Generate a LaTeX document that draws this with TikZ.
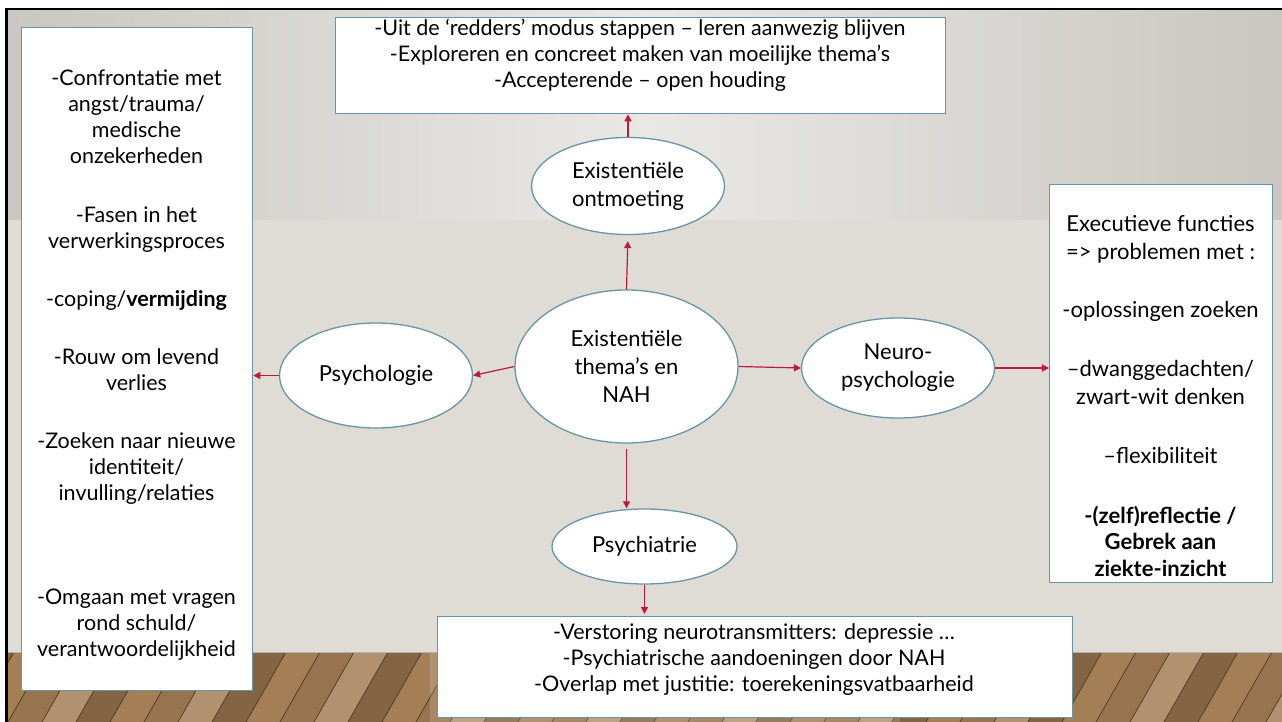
\documentclass[tikz,border=0pt]{standalone}
\usepackage{fontspec}
\setmainfont{Lato}
\usetikzlibrary{shapes.geometric,arrows.meta}
\definecolor{edgeblue}{RGB}{104,148,166}
\definecolor{arrowred}{RGB}{190,24,62}
\definecolor{wallup}{RGB}{202,199,194}
\definecolor{walluplight}{RGB}{234,232,229}
\definecolor{walllow}{RGB}{223,220,214}
\definecolor{floorbrown}{RGB}{164,126,84}
\begin{document}
\begin{tikzpicture}[x=1pt,y=-1pt,
  oval/.style={ellipse, draw=edgeblue, line width=1.3pt, fill=white, inner sep=0pt, align=center, font=\fontsize{22}{28}\selectfont},
  card/.style={rectangle, draw=edgeblue, line width=1.3pt, fill=white, inner sep=0pt, anchor=north west},
  txt/.style={align=center, inner sep=0pt, font=\fontsize{21.5}{26}\selectfont},
  rtxt/.style={align=center, inner sep=0pt, font=\fontsize{22}{28}\selectfont},
  link/.style={draw=arrowred, line width=1.2pt, -{Triangle[length=7pt,width=7pt]}}]
\useasboundingbox (0,0) rectangle (1282,722);
% background
\fill[white] (0,0) rectangle (1282,722);
\fill[black] (5,8) rectangle (1282,722);
\fill[walllow] (8,11) rectangle (1282,652);
\shade[left color=wallup, right color=wallup, middle color=walluplight] (8,11) rectangle (1282,220);
% floor
\fill[floorbrown] (8,652) rectangle (1282,722);
\begin{scope}
\clip (8,652) rectangle (1282,722);
\foreach \i in {0,...,40} {
  \pgfmathtruncatemacro\p{mod(\i*7,4)}
  \ifnum\p=0 \def\pc{floorbrown!80!black}\fi
  \ifnum\p=1 \def\pc{floorbrown!85!white}\fi
  \ifnum\p=2 \def\pc{floorbrown!92!black}\fi
  \ifnum\p=3 \def\pc{floorbrown}\fi
  \fill[\pc] (-60+\i*34,722) -- (-26+\i*34,722) -- (14+\i*34,652) -- (-20+\i*34,652) -- cycle;
  \draw[black!55!floorbrown, line width=0.7pt] (-60+\i*34,722) -- (-20+\i*34,652);
}
\fill[white, opacity=0.15] (430,652) rectangle (900,722);
\end{scope}
\draw[black!30, line width=1pt] (8,652) -- (1282,652);

% boxes
\node[card, minimum width=231, minimum height=663] (left) at (21,27) {};
\node[card, minimum width=610, minimum height=96] (top) at (335,17) {};
\node[card, minimum width=223, minimum height=398] (right) at (1049,184) {};
\node[card, minimum width=635, minimum height=101] (bot) at (437,616) {};

% ellipses
\node[oval, minimum width=223, minimum height=153] (cen) at (626.5,366.5) {Existenti\"ele\\thema’s en\\NAH};
\node[oval, minimum width=193, minimum height=97] (ont) at (628,186) {Existenti\"ele\\ontmoeting};
\node[oval, minimum width=193, minimum height=105] (psl) at (376,375.5) {Psychologie};
\node[oval, minimum width=193, minimum height=100] (neu) at (898,368) {Neuro-\\psychologie};
\node[oval, minimum width=185, minimum height=75] (psy) at (644.5,546.5) {Psychiatrie};

% texts left box
\node[txt] at (136.5,117) {-Confrontatie met\\angst/trauma/\\medische\\onzekerheden};
\node[txt] at (136.5,230) {-Fasen in het\\verwerkingsproces};
\node[txt] at (136.5,300) {-coping/\textbf{vermijding}};
\node[txt] at (136.5,370) {-Rouw om levend\\verlies};
\node[txt] at (136.5,469) {-Zoeken naar nieuwe\\identiteit/\\invulling/relaties};
\node[txt] at (136.5,625) {-Omgaan met vragen\\rond schuld/\\verantwoordelijkheid};

% top box text
\node[txt] at (640,55) {-Uit de ‘redders’ modus stappen – leren aanwezig blijven\\-Exploreren en concreet maken van moeilijke thema’s\\-Accepterende – open houding};

% bottom box text
\node[txt] at (754,660) {-Verstoring neurotransmitters: depressie …\\-Psychiatrische aandoeningen door NAH\\-Overlap met justitie: toerekeningsvatbaarheid};

% right box text
\node[rtxt] at (1160.5,239) {Executieve functies\\=> problemen met :};
\node[rtxt] at (1160.5,311) {-oplossingen zoeken};
\node[rtxt] at (1160.5,382) {–dwanggedachten/\\zwart-wit denken};
\node[rtxt] at (1160.5,455) {–flexibiliteit};
\node[rtxt, font=\fontsize{22}{26.5}\bfseries] at (1160.5,541) {-(zelf)reflectie /\\Gebrek aan\\ziekte-inzicht};

% connectors
\draw[link, shorten >=6pt] (cen.north) -- (ont.south);
\draw[link] (ont.north) -- (ont.north |- top.south);
\draw[link, shorten <=5pt] (cen.south) -- (cen.south |- psy.north);
\draw[link, shorten >=2pt] (psy.south) -- (psy.south |- bot.north);
\draw[link] (cen.west) -- (psl.east);
\draw[link] (psl.west) -- (psl.west -| left.east);
\draw[link] (cen.east) -- (neu.west);
\draw[link] (neu.east) -- (neu.east -| right.west);
\end{tikzpicture}
\end{document}
